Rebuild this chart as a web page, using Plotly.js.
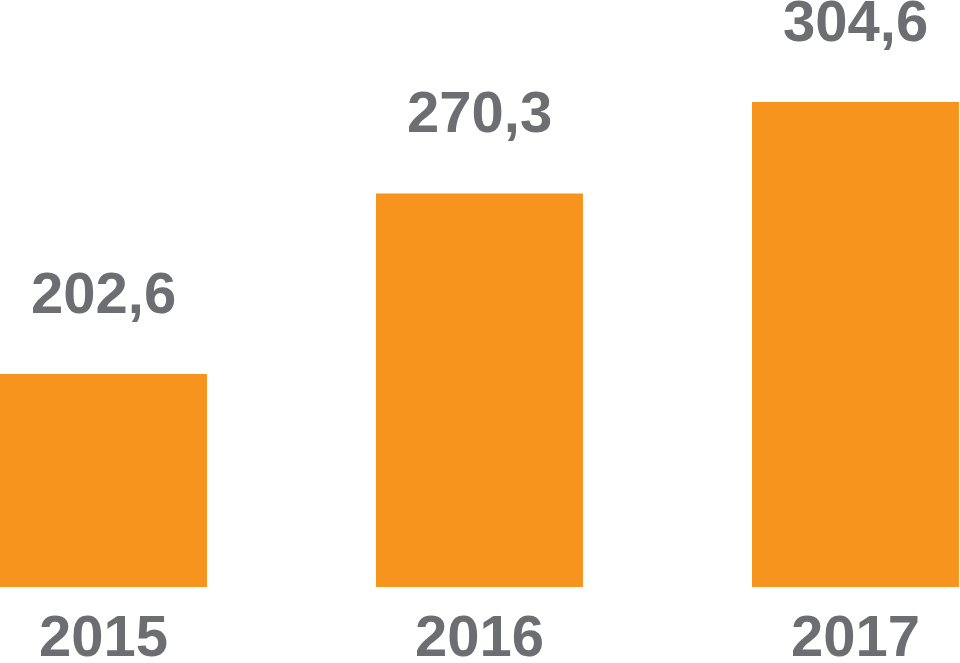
<!DOCTYPE html>
<html>
<head>
<meta charset="utf-8">
<script src="https://cdn.plot.ly/plotly-3.0.1.min.js"></script>
<style>html,body{margin:0;padding:0;background:#fff;}#chart{width:960px;height:663px;}</style>
</head>
<body>
<div id="chart"></div>
<script>
const years = ['2015', '2016', '2017'];
const values = [202.6, 270.3, 304.6];
const valueLabels = ['202,6', '270,3', '304,6'];

const barColor = '#f7941d';
const textColor = '#6d6e71';
const fontFam = '"Liberation Sans", Arial, Helvetica, sans-serif';

const trace = {
  type: 'bar',
  x: years,
  y: values,
  width: 0.5505,
  marker: {color: barColor},
  hoverinfo: 'none'
};

const annotations = years.map((yr, i) => ({
  x: i, y: values[i], xref: 'x', yref: 'y',
  text: '<b>' + valueLabels[i] + '</b>',
  showarrow: false, yanchor: 'bottom', yshift: 47,
  font: {family: fontFam, size: 58, color: textColor}
}));

const layout = {
  width: 960, height: 663,
  margin: {l: 0, r: 0, t: 0, b: 76},
  paper_bgcolor: '#ffffff', plot_bgcolor: '#ffffff',
  showlegend: false,
  xaxis: {
    type: 'category', range: [-0.2753, 2.278],
    showgrid: false, zeroline: false, showline: false,
    ticks: '', tickfont: {family: fontFam, size: 58, color: textColor},
    tickprefix: '<b>', ticksuffix: '</b>', ticklabelstandoff: 10
  },
  yaxis: {
    range: [122.73, 342.83], visible: false, showgrid: false, zeroline: false
  },
  annotations: annotations
};

Plotly.newPlot('chart', [trace], layout, {staticPlot: true, displayModeBar: false});
</script>
</body>
</html>
